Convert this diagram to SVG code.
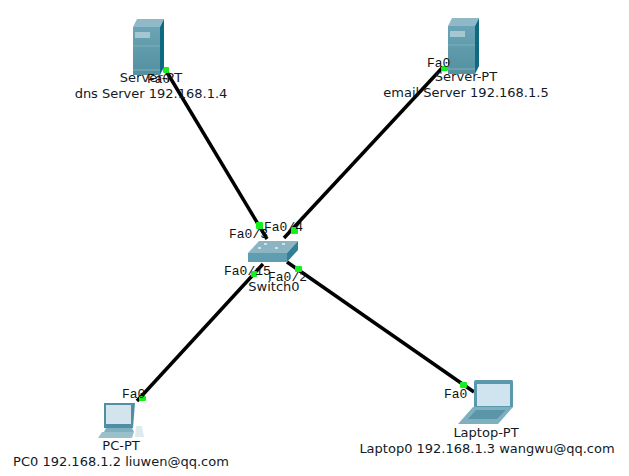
<svg xmlns="http://www.w3.org/2000/svg" width="629" height="476" viewBox="0 0 629 476">
  <style>
    .name { font-family: "DejaVu Sans", sans-serif; font-size: 13px; fill: #111a26; text-anchor: middle; }
    .port { font-family: "Liberation Mono", monospace; font-size: 13px; fill: #111; }
    .link { stroke: #000; stroke-width: 3.5; fill: none; }
    .dot { fill: #14f01e; }
  </style>
  <defs>
    <linearGradient id="tower" x1="0" x2="0" y1="0" y2="1">
      <stop offset="0" stop-color="#6aa4b6"/>
      <stop offset="1" stop-color="#54909f"/>
    </linearGradient>
    <g id="server">
      <path d="M0 9 L4 1 H31 L27 9 Z" fill="#8fb9c6"/>
      <rect x="0" y="9" width="27" height="48" fill="url(#tower)"/>
      <path d="M27 9 L31 1 V49 L27 57 Z" fill="#0d6a80"/>
      <rect x="2" y="14" width="15" height="6" fill="#a4c7d1"/>
      <path d="M0 28 H27 M0 52 H27" stroke="#80aebb" stroke-width="1"/>
    </g>
  </defs>
  <rect width="629" height="476" fill="#fff"/>

  <g id="connectors">
    <path class="link" d="M165 69 L267 239"/>
    <path class="link" d="M443 67 L284 238"/>
    <path class="link" d="M263 264 L137 401"/>
    <path class="link" d="M287 262 L474 392"/>
    <rect class="dot" x="163" y="67" width="6" height="6" rx="1"/>
    <rect class="dot" x="441" y="66" width="7" height="5" rx="1"/>
    <rect class="dot" x="256" y="222" width="7" height="7" rx="1"/>
    <rect class="dot" x="291" y="227" width="7" height="7" rx="1"/>
    <rect class="dot" x="251" y="271" width="6" height="6" rx="1"/>
    <rect class="dot" x="295" y="266" width="7" height="6" rx="1"/>
    <rect class="dot" x="139" y="396" width="7" height="5" rx="1"/>
    <rect class="dot" x="460" y="382" width="7" height="6" rx="1"/>
  </g>

  <g id="dns-server">
    <use href="#server" x="133" y="18"/>
    <text class="name" x="151" y="82">Server-PT</text>
    <text class="name" x="151" y="98">dns Server 192.168.1.4</text>
    <text class="port" x="147" y="83">Fa0</text>
  </g>

  <g id="email-server">
    <use href="#server" x="448" y="17"/>
    <text class="name" x="466" y="81">Server-PT</text>
    <text class="name" x="466" y="97">email Server 192.168.1.5</text>
    <text class="port" x="427" y="67">Fa0</text>
  </g>

  <g id="switch0">
    <path d="M259 241 H298 L287 253 H248 Z" fill="#8db4c2"/>
    <path d="M248 253 H287 V262 H248 Z" fill="#5f9db0"/>
    <path d="M287 253 L298 241 V250 L287 262 Z" fill="#2f7f95"/>
    <path d="M264 244 h3 M282 244 h3 M258 248 h3 M275 248 h3" stroke="#e4f0f4" stroke-width="1.5"/>
    <text class="name" x="274" y="291">Switch0</text>
    <text class="port" x="229" y="238">Fa0/3</text>
    <text class="port" x="264" y="231">Fa0/4</text>
    <text class="port" x="224" y="275">Fa0/15</text>
    <text class="port" x="268" y="281">Fa0/2</text>
  </g>

  <g id="pc0">
    <path d="M104 403 H135 L133 428 H104 Z" fill="#4f8ea3"/>
    <rect x="106" y="405" width="25" height="19" fill="#d3e4ec"/>
    <path d="M106 428 H132 L134 432 H104 Z" fill="#7fb0bf"/>
    <path d="M102 432 H134 L132 438 H98 Z" fill="#9ac0cc"/>
    <path d="M136 426 h6 l2 11 h-9 z" fill="#dfeaee"/>
    <text class="name" x="121" y="450">PC-PT</text>
    <text class="name" x="121" y="466">PC0 192.168.1.2 liuwen@qq.com</text>
    <text class="port" x="122" y="398">Fa0</text>
  </g>

  <g id="laptop0">
    <path d="M474 382 Q474 380 476 380 H512 Q513 380 513 382 L513 407 H474 Z" fill="#5a98ab"/>
    <rect x="477" y="384" width="33" height="22" fill="#cfe4ee"/>
    <path d="M473 407 H513 L498 424 H458 Z" fill="#7fb0bf"/>
    <path d="M476 410 H506 L497 419 H468 Z" fill="#5b96a8"/>
    <text class="name" x="486" y="437">Laptop-PT</text>
    <text class="name" x="487" y="453">Laptop0 192.168.1.3 wangwu@qq.com</text>
    <text class="port" x="444" y="398">Fa0</text>
  </g>
</svg>
